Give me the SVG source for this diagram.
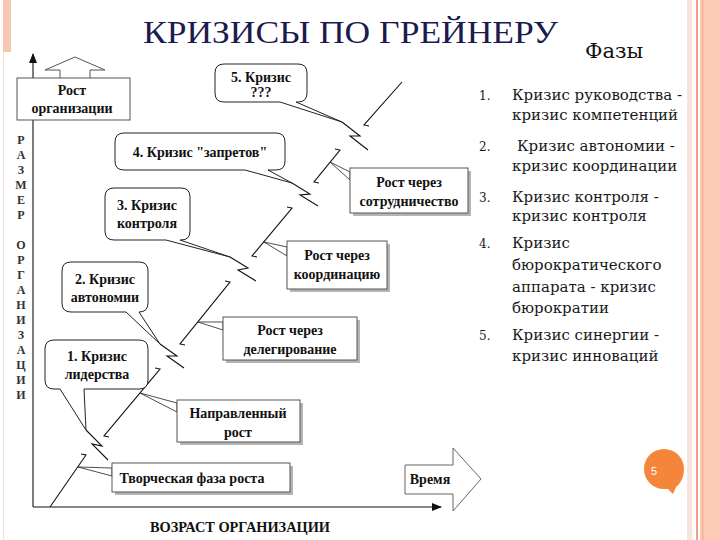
<svg xmlns="http://www.w3.org/2000/svg" width="720" height="540" viewBox="0 0 720 540">
<style>
.ln{fill:none;stroke:#111;stroke-width:1.1;stroke-linejoin:miter}
.bub{fill:#fff;stroke:#222;stroke-width:1}
.ptr{fill:#fff;stroke:#222;stroke-width:0.8}
.box{fill:#fff;stroke:#555;stroke-width:1}
.shd{fill:#b5b5b5}
.sf{font-family:'Liberation Serif','Times New Roman','Tinos','DejaVu Serif','Noto Serif',serif}
.bt{font-family:'Liberation Serif','Times New Roman','Tinos','DejaVu Serif',serif;font-weight:bold;font-size:14px;fill:#111;text-anchor:middle}
.vt{font-family:'Liberation Serif','Times New Roman','Tinos',serif;font-weight:bold;font-size:12px;fill:#333;text-anchor:middle}
.lt{font-family:'DejaVu Serif','Liberation Serif','Noto Serif',serif;font-size:15px;fill:#1a1a1a}
.ln2{font-family:'DejaVu Serif','Liberation Serif',serif;font-size:12px;fill:#1a1a1a}
.ph{font-family:'DejaVu Serif','Liberation Serif',serif;font-size:21px;fill:#111}
</style>
<defs>
<marker id="ah" markerWidth="10" markerHeight="8" refX="9" refY="4" orient="auto" markerUnits="userSpaceOnUse">
<path d="M0,0 L10,4 L0,8 Z" fill="#111"/>
</marker>
</defs>
<rect width="720" height="540" fill="#fff"/>
<g id="borders">
<rect x="3" y="0" width="8" height="52" fill="#F7C7B1"/>
<line x1="3.5" y1="52" x2="3.5" y2="540" stroke="#F6E0D6" stroke-width="1"/>
<rect x="687" y="0" width="5" height="540" fill="#F8E4DA"/>
<rect x="696" y="0" width="2" height="540" fill="#F0A384"/>
<rect x="700" y="0" width="20" height="540" fill="#FCCBB5"/>
<rect x="702" y="0" width="1.5" height="540" fill="#F7B396"/>
</g>
<g id="title">
<text class="sf" x="143" y="43" font-size="32" fill="#1b1b4d" textLength="415" lengthAdjust="spacingAndGlyphs">КРИЗИСЫ ПО ГРЕЙНЕРУ</text>
<text class="ph" x="585" y="58">Фазы</text>
</g>
<g id="axes">
<line x1="33" y1="507" x2="33" y2="54" class="ln" marker-end="url(#ah)"/>
<line x1="33" y1="507" x2="441" y2="507" class="ln" marker-end="url(#ah)"/>
<text class="bt" x="240" y="532" fill="#222" textLength="180" lengthAdjust="spacingAndGlyphs">ВОЗРАСТ ОРГАНИЗАЦИИ</text>
</g>
<g id="size-label">
<text class="vt" x="21" y="144">Р</text>
<text class="vt" x="21" y="159">А</text>
<text class="vt" x="21" y="174">З</text>
<text class="vt" x="21" y="189">М</text>
<text class="vt" x="21" y="204">Е</text>
<text class="vt" x="21" y="219">Р</text>
<text class="vt" x="21" y="249">О</text>
<text class="vt" x="21" y="264">Р</text>
<text class="vt" x="21" y="279">Г</text>
<text class="vt" x="21" y="294">А</text>
<text class="vt" x="21" y="309">Н</text>
<text class="vt" x="21" y="324">И</text>
<text class="vt" x="21" y="339">З</text>
<text class="vt" x="21" y="354">А</text>
<text class="vt" x="21" y="369">Ц</text>
<text class="vt" x="21" y="384">И</text>
<text class="vt" x="21" y="399">И</text>
</g>
<g id="growth-box">
<path d="M60,79 V70 H45 L75,57 L105,70 H90 V79" fill="#fff" stroke="#555" stroke-width="1"/>
<rect x="17" y="78" width="113" height="42" class="box"/>
<text class="bt" x="72" y="95" font-size="13">Рост</text>
<text class="bt" x="72" y="113" font-size="13">организации</text>
</g>
<g id="time-arrow">
<path d="M405,465 H453 V448 L481,479 L453,511 V494 H405 Z" fill="#fff" stroke="#666" stroke-width="1"/>
<text class="bt" x="430" y="484" font-size="13">Время</text>
</g>
<g id="connectors">
<polyline class="ln" points="50,507 86,455 81,454"/>
<polyline class="ln" points="109,437 104,436 160,369 155,368"/>
<polyline class="ln" points="185,345 180,344 230,282 225,281"/>
<polyline class="ln" points="257,257 252,256 292,208 287,207"/>
<polyline class="ln" points="319,183 314,182 340,150 335,149"/>
<polyline class="ln" points="369,126 364,125 402,82"/>
<polyline class="ln" points="86,430 102,446 92,444 108,460"/>
<polyline class="ln" points="160,344 177,356 167,356 184,368"/>
<polyline class="ln" points="230,257 248,268 238,270 256,281"/>
<polyline class="ln" points="292,183 310,194 300,195 318,206"/>
<polyline class="ln" points="342,122 360,136 350,136 368,150"/>
<polygon class="ptr" points="350,172 330,162 350,180"/>
<polygon class="ptr" points="287,247 264,242 287,256"/>
<polygon class="ptr" points="223,322 198,322 223,330"/>
<polygon class="ptr" points="177,403 140,393 177,412"/>
<polygon class="ptr" points="112,468 78,467 112,476"/>
</g>
<g id="crisis5">
<path class="bub" d="M224,64 H298 Q307,64 307,73 V93 Q307,102 298,102 H296 L342,122 L280,102 H224 Q215,102 215,93 V73 Q215,64 224,64 Z"/>
<text class="bt" x="261" y="82">5. Кризис</text>
<text class="bt" x="261" y="97">???</text>
</g>
<g id="crisis4">
<path class="bub" d="M124,133 H276 Q285,133 285,142 V161 Q285,170 276,170 H268 L292,183 L245,170 H124 Q115,170 115,161 V142 Q115,133 124,133 Z"/>
<text class="bt" x="200" y="157">4. Кризис "запретов"</text>
</g>
<g id="crisis3">
<path class="bub" d="M114,188 H181 Q190,188 190,197 V231 Q190,240 181,240 H180 L230,257 L166,240 H114 Q105,240 105,231 V197 Q105,188 114,188 Z"/>
<text class="bt" x="147" y="210">3. Кризис</text>
<text class="bt" x="147" y="228">контроля</text>
</g>
<g id="crisis2">
<path class="bub" d="M71,262 H139 Q148,262 148,271 V303 Q148,312 139,312 L160,344 L126,312 H71 Q62,312 62,303 V271 Q62,262 71,262 Z"/>
<text class="bt" x="105" y="284">2. Кризис</text>
<text class="bt" x="105" y="302">автономии</text>
</g>
<g id="crisis1">
<path class="bub" d="M54,340 H139 Q148,340 148,349 V380 Q148,389 139,389 H84 L86,430 L60,389 H54 Q45,389 45,380 V349 Q45,340 54,340 Z"/>
<text class="bt" x="97" y="361">1. Кризис</text>
<text class="bt" x="97" y="379">лидерства</text>
</g>
<g id="phase5">
<rect class="shd" x="353" y="171" width="118" height="45"/>
<rect class="box" x="350" y="168" width="118" height="45"/>
<text class="bt" x="409" y="187">Рост через</text>
<text class="bt" x="409" y="206">сотрудничество</text>
</g>
<g id="phase4">
<rect class="shd" x="290" y="244" width="100" height="48"/>
<rect class="box" x="287" y="241" width="100" height="48"/>
<text class="bt" x="337" y="260">Рост через</text>
<text class="bt" x="337" y="279">координацию</text>
</g>
<g id="phase3">
<rect class="shd" x="226" y="320" width="134" height="43"/>
<rect class="box" x="223" y="317" width="134" height="43"/>
<text class="bt" x="290" y="335">Рост через</text>
<text class="bt" x="290" y="354">делегирование</text>
</g>
<g id="phase2">
<rect class="shd" x="180" y="403" width="123" height="42"/>
<rect class="box" x="177" y="400" width="123" height="42"/>
<text class="bt" x="238" y="418">Направленный</text>
<text class="bt" x="238" y="437">рост</text>
</g>
<g id="phase1">
<rect class="shd" x="115" y="466" width="178" height="29"/>
<rect class="box" x="112" y="463" width="178" height="29"/>
<text class="bt" x="192" y="483">Творческая фаза роста</text>
</g>
<g id="phase-list">
<text class="ln2" x="479" y="100">1.</text>
<text class="lt" x="512" y="100">Кризис руководства -</text>
<text class="lt" x="512" y="120">кризис компетенций</text>
<text class="ln2" x="479" y="151">2.</text>
<text class="lt" x="517" y="151">Кризис автономии -</text>
<text class="lt" x="512" y="171">кризис координации</text>
<text class="ln2" x="479" y="202">3.</text>
<text class="lt" x="512" y="202">Кризис контроля -</text>
<text class="lt" x="512" y="221">кризис контроля</text>
<text class="ln2" x="479" y="248">4.</text>
<text class="lt" x="512" y="248">Кризис</text>
<text class="lt" x="512" y="270">бюрократического</text>
<text class="lt" x="512" y="292">аппарата - кризис</text>
<text class="lt" x="512" y="313">бюрократии</text>
<text class="ln2" x="479" y="340">5.</text>
<text class="lt" x="512" y="340">Кризис синергии -</text>
<text class="lt" x="512" y="361">кризис инноваций</text>
</g>
<g id="page-number">
<path d="M664,449 A20,20 0 0 1 684,469 C684,478 680,484 676,487 L673,494 L668,489 L664,489 A20,20 0 0 1 664,449 Z" fill="#F5853A"/>
<text x="651" y="475" font-family="'Liberation Sans',sans-serif" font-size="11" fill="#fff">5</text>
</g>
</svg>
